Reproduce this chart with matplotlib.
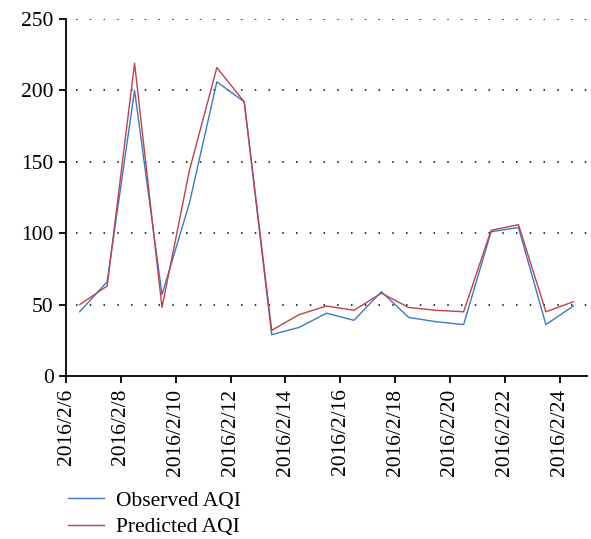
import datetime as dt

import matplotlib

matplotlib.use("Agg")
import matplotlib.dates as mdates
import matplotlib.pyplot as plt

# daily values, sampled at noon from 2016/2/6 to 2016/2/24
start_day = dt.datetime(2016, 2, 6, 12)
observed_aqi = [45, 66, 200, 57, 121, 206, 192, 29, 34, 44, 39, 59, 41, 38, 36, 101, 104, 36, 49]
predicted_aqi = [50, 63, 219, 48, 144, 216, 192, 32, 43, 49, 46, 58, 48, 46, 45, 102, 106, 45, 52]
series_labels = ["Observed AQI", "Predicted AQI"]
y_ticks = [0, 50, 100, 150, 200, 250]

dates = [start_day + dt.timedelta(days=i) for i in range(len(observed_aqi))]

plt.rcParams["font.family"] = ["Liberation Serif", "DejaVu Serif"]
plt.rcParams["font.size"] = 15.5

fig = plt.figure(figsize=(5.91, 5.39), dpi=100)
ax = fig.add_axes([0.1117, 0.3024, 0.8816, 0.6623])

ax.plot(dates, observed_aqi, color="#3d78c2", lw=1.0, label=series_labels[0])
ax.plot(dates, predicted_aqi, color="#c0404a", lw=1.0, label=series_labels[1])

ax.set_ylim(0, 250)
ax.set_yticks(y_ticks)
ax.set_xlim(dt.datetime(2016, 2, 6), dt.datetime(2016, 2, 25))
ax.xaxis.set_major_locator(mdates.DayLocator(bymonthday=range(6, 25, 2)))
ax.xaxis.set_major_formatter(
    matplotlib.ticker.FuncFormatter(
        lambda v, pos: (lambda d: f"{d.year}/{d.month}/{d.day}")(mdates.num2date(v))
    )
)
for label in ax.get_xticklabels():
    label.set_rotation(90)

for val in y_ticks:
    ax.axhline(val, xmin=0.02, color="black", lw=1.1, ls=(0, (1, 8)), zorder=0)

ax.spines["top"].set_visible(False)
ax.spines["right"].set_visible(False)
ax.spines["left"].set_linewidth(1.3)
ax.spines["bottom"].set_linewidth(1.3)
ax.tick_params(direction="out", length=5, width=1.3, colors="black", pad=4)

fig.legend(
    loc="upper left",
    bbox_to_anchor=(0.1005, 0.106),
    frameon=False,
    handlelength=1.67,
    handletextpad=0.56,
    labelspacing=0.3,
    borderaxespad=0,
)

fig.savefig("out.png", dpi=100)
plt.close(fig)
